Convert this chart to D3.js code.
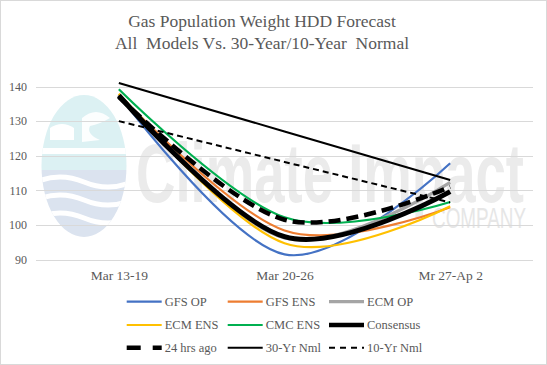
<!DOCTYPE html>
<html>
<head>
<meta charset="utf-8">
<script src="https://cdn.jsdelivr.net/npm/d3@7"></script>
<style>
  html, body { margin: 0; padding: 0; background: #fff; }
  svg { display: block; }
</style>
</head>
<body>
<svg id="chart" width="547" height="365"></svg>
<script>
// ---- data ----
const categories = ["Mar 13-19", "Mar 20-26", "Mr 27-Ap 2"];
const yTicks = [90, 100, 110, 120, 130, 140];
const titleLines = ["Gas Population Weight HDD Forecast", "All  Models Vs. 30-Year/10-Year  Normal"];

const gfsOp     = [137.6, 91.5, 117.8];
const gfsEns    = [137.8, 98.4, 105.1];
const ecmOp     = [137.7, 96.2, 112.3];
const ecmEns    = [137.9, 94.7, 105.4];
const cmcEns    = [139.2, 102.2, 106.6];
const consensus = [137.4, 96.6, 109.6];
const hrs24     = [137.0, 101.5, 111.0];
const nml30     = [141.0, 127.0, 113.0];
const nml10     = [130.0, 118.2, 106.5];

const seriesNames = ["GFS OP", "GFS ENS", "ECM OP", "ECM ENS", "CMC ENS", "Consensus", "24 hrs ago", "30-Yr Nml", "10-Yr Nml"];
const seriesValues = [gfsOp, gfsEns, ecmOp, ecmEns, cmcEns, consensus, hrs24, nml30, nml10];
const seriesColors = ["#4472C4", "#ED7D31", "#A5A5A5", "#FFC000", "#00B050", "#000000", "#000000", "#000000", "#000000"];
const seriesWidths = [2.2, 2.2, 3.2, 2.2, 2.2, 5, 4.5, 2, 2];
const seriesDash   = [null, null, null, null, null, null, "12,6", null, "6,4"];
const seriesSmooth = [true, true, true, true, true, true, true, false, false];

// ---- layout ----
const svg = d3.select("#chart");
const W = 547, H = 365;
const plot = { left: 36, right: 533, top: 69.2, bottom: 259.5 };
const textColor = "#595959";
const serif = "Liberation Serif";

svg.append("rect").attr("x", 0.5).attr("y", 0.5).attr("width", W - 1).attr("height", H - 1)
  .attr("fill", "#fff").attr("stroke", "#d9d9d9");

const x = d3.scalePoint().domain(categories).range([plot.left, plot.right]).padding(0.5);
const y = d3.scaleLinear().domain([90, 145]).range([plot.bottom, plot.top]);

// ---- watermark ----
const wm = svg.append("g").attr("class", "watermark");
const defs = svg.append("defs");
defs.append("clipPath").attr("id", "ovalClip").append("ellipse")
  .attr("cx", 84).attr("cy", 166).attr("rx", 42.5).attr("ry", 71);
const oval = wm.append("g").attr("clip-path", "url(#ovalClip)");
oval.append("rect").attr("x", 40).attr("y", 94).attr("width", 90).attr("height", 76).attr("fill", "#dcf1f3");
oval.append("rect").attr("x", 40).attr("y", 170).attr("width", 90).attr("height", 70).attr("fill", "#dbe3ef");
oval.append("path").attr("d", "M50,128 Q62,120 74,128 L74,140 L50,140 Z").attr("fill", "#fff");
oval.append("path").attr("d", "M82,118 Q96,106 110,118 Q100,124 90,126 Q86,134 100,140 L82,142 Z").attr("fill", "#fff").attr("opacity", 0.9);
oval.append("rect").attr("x", 40).attr("y", 148).attr("width", 90).attr("height", 6).attr("fill", "#fff");
[182, 200, 218].forEach(yy => {
  oval.append("path").attr("d", `M36,${yy} Q60,${yy - 10} 84,${yy} T132,${yy}`)
    .attr("fill", "none").attr("stroke", "#fff").attr("stroke-width", 5);
});
wm.append("text").attr("x", 136).attr("y", 202).attr("textLength", 388).attr("lengthAdjust", "spacingAndGlyphs")
  .attr("font-family", "Liberation Sans").attr("font-weight", "bold").attr("font-size", 84)
  .attr("fill", "#ebebeb").text("Climate Impact");
wm.append("text").attr("x", 432).attr("y", 228).attr("textLength", 94).attr("lengthAdjust", "spacingAndGlyphs")
  .attr("font-family", "Liberation Sans").attr("font-size", 30)
  .attr("fill", "#e6e6e6").text("COMPANY");

// ---- gridlines ----
svg.append("g").selectAll("line").data(yTicks).join("line")
  .attr("x1", plot.left).attr("x2", plot.right)
  .attr("y1", d => Math.round(y(d)) + 0.5).attr("y2", d => Math.round(y(d)) + 0.5)
  .attr("stroke", "#d9d9d9").attr("stroke-width", 1);

// ---- axes ----
const yAxis = svg.append("g").attr("transform", `translate(${plot.left},0)`)
  .call(d3.axisLeft(y).tickValues(yTicks).tickSize(0).tickPadding(9));
yAxis.attr("font-family", serif).attr("font-size", 12);
yAxis.select(".domain").remove();
yAxis.selectAll("text").attr("font-family", serif).attr("font-size", 12).attr("fill", textColor);

const xAxis = svg.append("g").attr("transform", `translate(0,${plot.bottom})`)
  .call(d3.axisBottom(x).tickSize(0).tickPadding(11));
xAxis.attr("font-family", serif).attr("font-size", 13.5);
xAxis.select(".domain").remove();
xAxis.selectAll("text").attr("font-family", serif).attr("font-size", 13.5).attr("fill", textColor);

// ---- title ----
svg.append("g").selectAll("text").data(titleLines).join("text")
  .attr("font-family", serif)
  .attr("x", 262).attr("y", (d, i) => 27 + i * 21.5)
  .attr("text-anchor", "middle").attr("font-size", 17.5)
  .attr("fill", textColor).style("white-space", "pre").text(d => d);

// ---- lines ----
const lineSmooth = d3.line().x((d, i) => x(categories[i])).y(d => y(d)).curve(d3.curveCardinal.tension(0));
const lineStraight = d3.line().x((d, i) => x(categories[i])).y(d => y(d)).curve(d3.curveLinear);
const linesG = svg.append("g");
seriesValues.forEach((vals, k) => {
  linesG.append("path").attr("d", (seriesSmooth[k] ? lineSmooth : lineStraight)(vals))
    .attr("fill", "none").attr("stroke", seriesColors[k]).attr("stroke-width", seriesWidths[k])
    .attr("stroke-dasharray", seriesDash[k]).attr("stroke-linejoin", "round");
});

// ---- legend ----
const legCols = [126.7, 227.7, 329];
const legRows = [301.7, 325, 347.7];
const leg = svg.append("g");
seriesNames.forEach((name, k) => {
  const cx = legCols[k % 3], cy = legRows[Math.floor(k / 3)];
  leg.append("line").attr("x1", cx).attr("x2", cx + 35).attr("y1", cy).attr("y2", cy)
    .attr("stroke", seriesColors[k]).attr("stroke-width", Math.min(seriesWidths[k], 4.5))
    .attr("stroke-dasharray", k === 6 ? "14,12" : (k === 8 ? "6,5" : null));
  leg.append("text").attr("font-family", serif).attr("x", cx + 38).attr("y", cy + 4.3)
    .attr("font-size", 12.5).attr("fill", textColor).text(name);
});
</script>
</body>
</html>
